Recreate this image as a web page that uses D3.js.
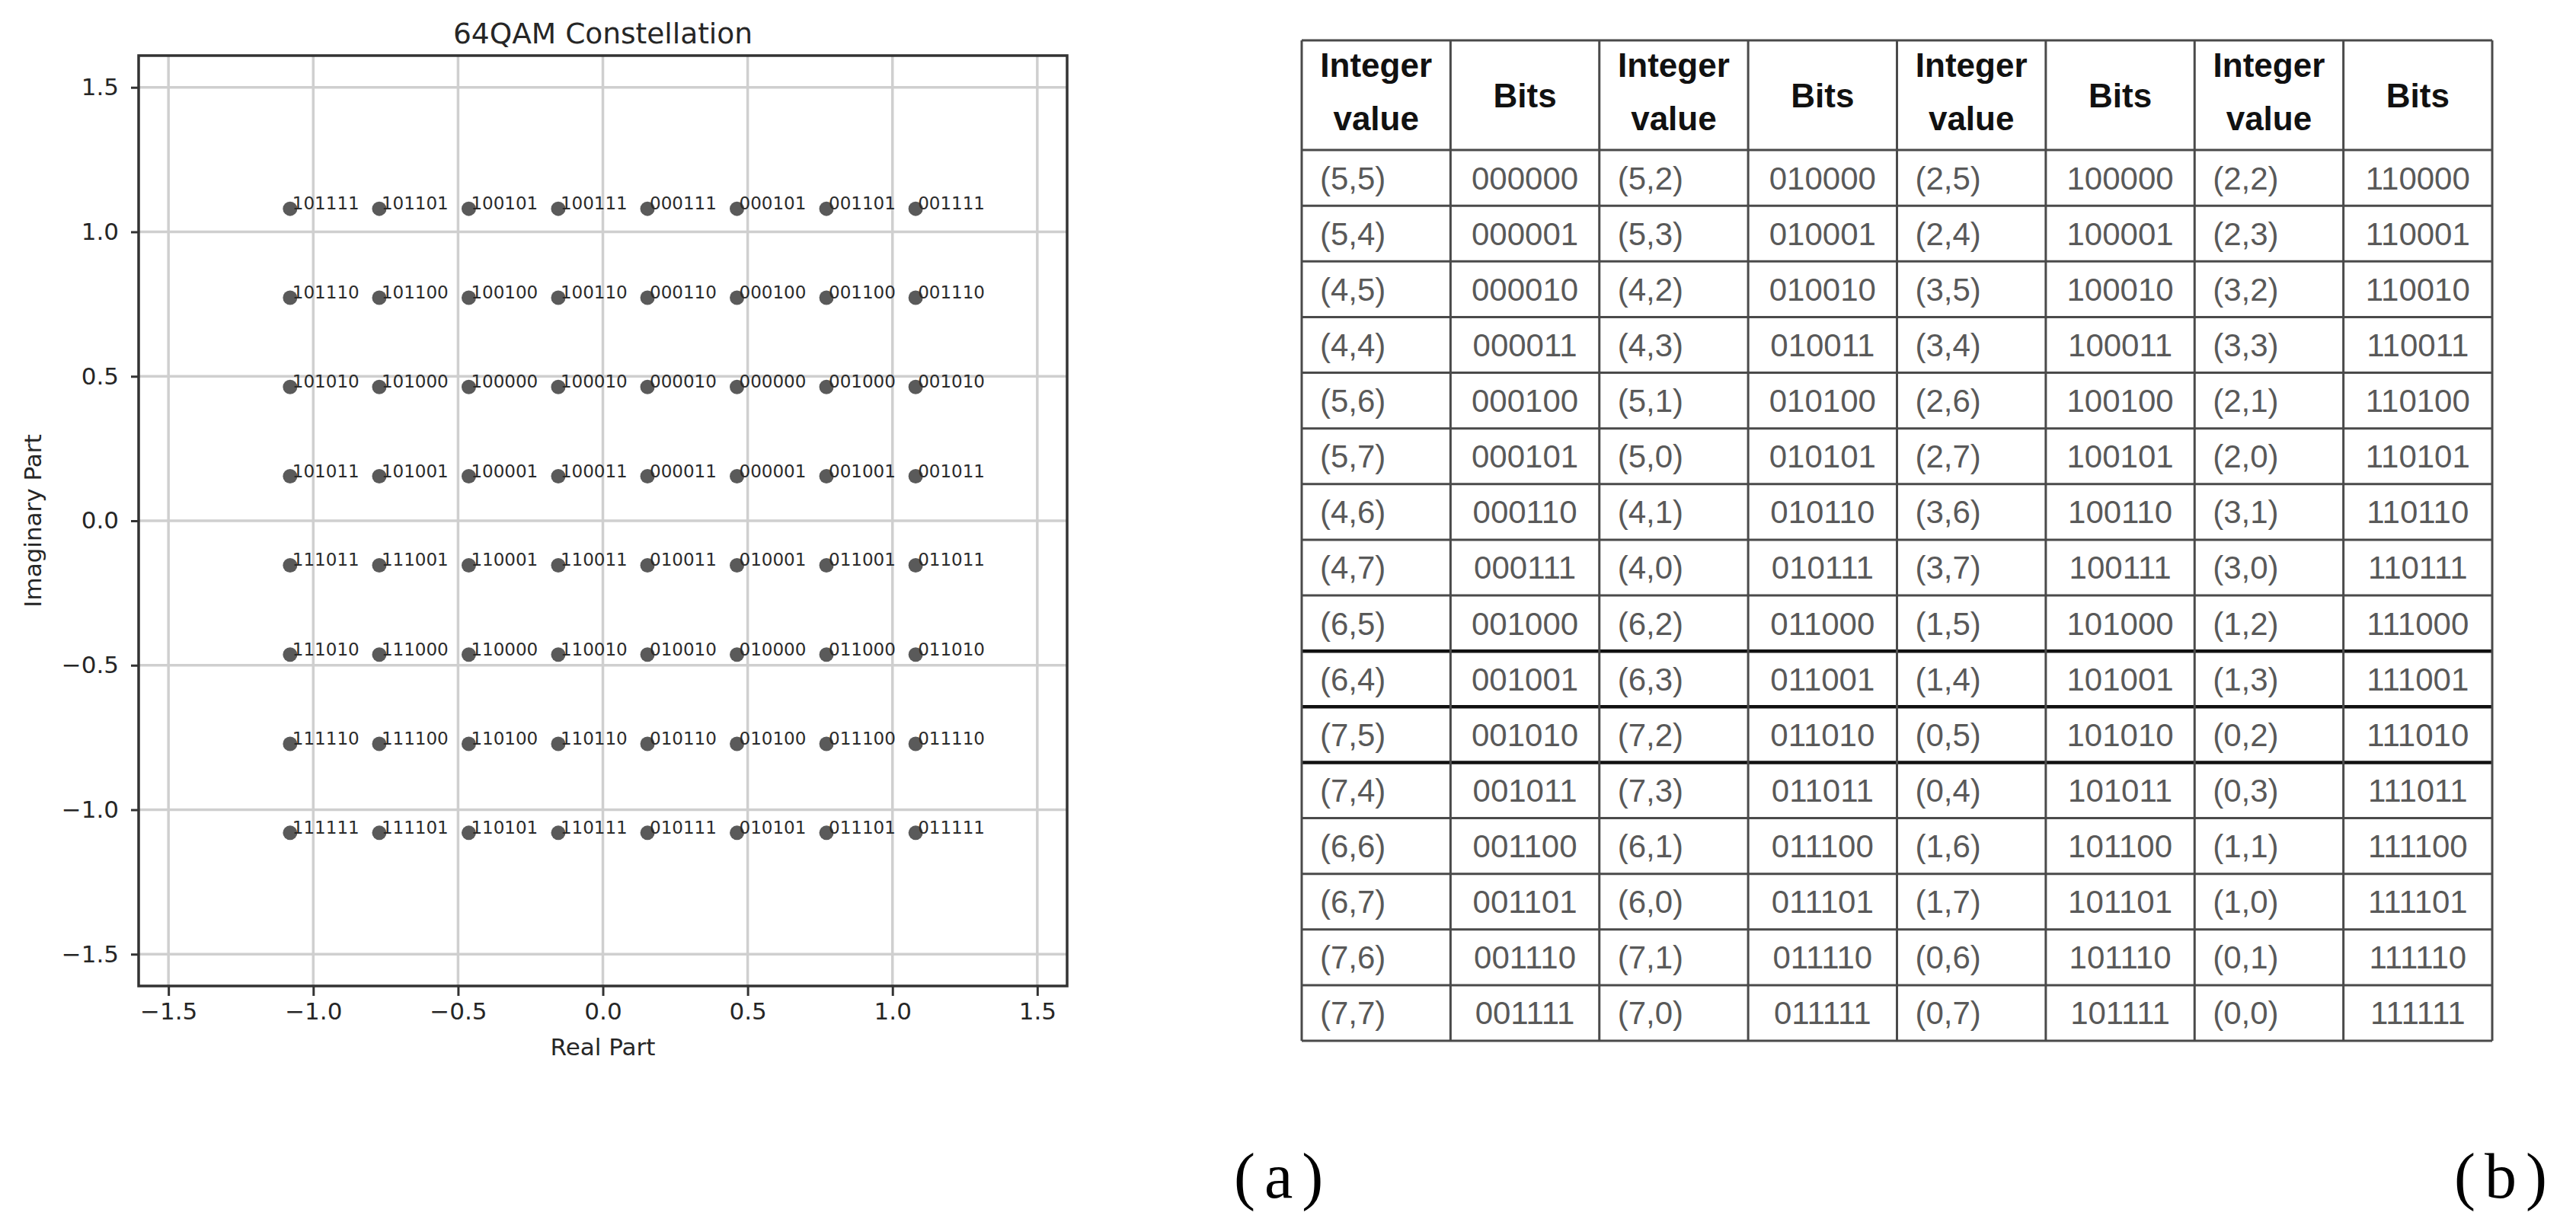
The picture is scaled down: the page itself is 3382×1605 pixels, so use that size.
<!DOCTYPE html>
<html lang="en">
<head>
<meta charset="UTF-8">
<title>64QAM Constellation</title>
<script src="https://d3js.org/d3.v7.min.js"></script>
<style>
body{margin:0;background:#fff;}
svg{display:block;background:#fff;}
.axis text{font-family:"DejaVu Sans",sans-serif;font-size:31px;fill:#262626;}
.axis line{stroke:#333;stroke-width:3;}
.grid line{stroke:#cfcfcf;stroke-width:3.5;}
.ptlabel{font-family:"DejaVu Sans",sans-serif;font-size:23px;fill:#2a2a2a;}
.cell{font-family:"Liberation Sans",Arial,sans-serif;font-size:42px;fill:#595959;}
.head{font-family:"Liberation Sans",Arial,sans-serif;font-size:44px;font-weight:bold;fill:#111;}
.sub{font-family:"Liberation Serif","Times New Roman",serif;font-size:84px;fill:#000;letter-spacing:12px;}
</style>
</head>
<body>
<svg id="fig" width="3382" height="1605"></svg>
<script>
// constellation levels on both axes
var levels=[-1.08,-0.772,-0.463,-0.154,0.154,0.463,0.772,1.08];
// bit labels, one row per imag level, top (+1.08) to bottom (-1.08)
var pointBits=[
 ["101111","101101","100101","100111","000111","000101","001101","001111"],
 ["101110","101100","100100","100110","000110","000100","001100","001110"],
 ["101010","101000","100000","100010","000010","000000","001000","001010"],
 ["101011","101001","100001","100011","000011","000001","001001","001011"],
 ["111011","111001","110001","110011","010011","010001","011001","011011"],
 ["111010","111000","110000","110010","010010","010000","011000","011010"],
 ["111110","111100","110100","110110","010110","010100","011100","011110"],
 ["111111","111101","110101","110111","010111","010101","011101","011111"]
];
var ticks=[-1.5,-1.0,-0.5,0.0,0.5,1.0,1.5];

// table (b)
var headers=["Integer value","Bits","Integer value","Bits","Integer value","Bits","Integer value","Bits"];
var ints0=["(5,5)","(5,4)","(4,5)","(4,4)","(5,6)","(5,7)","(4,6)","(4,7)","(6,5)","(6,4)","(7,5)","(7,4)","(6,6)","(6,7)","(7,6)","(7,7)"];
var bits0=["000000","000001","000010","000011","000100","000101","000110","000111","001000","001001","001010","001011","001100","001101","001110","001111"];
var ints1=["(5,2)","(5,3)","(4,2)","(4,3)","(5,1)","(5,0)","(4,1)","(4,0)","(6,2)","(6,3)","(7,2)","(7,3)","(6,1)","(6,0)","(7,1)","(7,0)"];
var bits1=["010000","010001","010010","010011","010100","010101","010110","010111","011000","011001","011010","011011","011100","011101","011110","011111"];
var ints2=["(2,5)","(2,4)","(3,5)","(3,4)","(2,6)","(2,7)","(3,6)","(3,7)","(1,5)","(1,4)","(0,5)","(0,4)","(1,6)","(1,7)","(0,6)","(0,7)"];
var bits2=["100000","100001","100010","100011","100100","100101","100110","100111","101000","101001","101010","101011","101100","101101","101110","101111"];
var ints3=["(2,2)","(2,3)","(3,2)","(3,3)","(2,1)","(2,0)","(3,1)","(3,0)","(1,2)","(1,3)","(0,2)","(0,3)","(1,1)","(1,0)","(0,1)","(0,0)"];
var bits3=["110000","110001","110010","110011","110100","110101","110110","110111","111000","111001","111010","111011","111100","111101","111110","111111"];
var thickRows=[8,9,10];

var svg=d3.select("#fig");

// ---------- (a) constellation ----------
var L=182,R=1401,T=73,B=1295;
var x=d3.scaleLinear().domain([-1.603,1.603]).range([L,R]);
var y=d3.scaleLinear().domain([-1.61,1.61]).range([B,T]);

var g=svg.append("g");
g.append("g").attr("class","grid").selectAll("line").data(ticks).enter().append("line")
  .attr("x1",function(d){return x(d);}).attr("x2",function(d){return x(d);})
  .attr("y1",T).attr("y2",B);
g.append("g").attr("class","grid").selectAll("line").data(ticks).enter().append("line")
  .attr("y1",function(d){return y(d);}).attr("y2",function(d){return y(d);})
  .attr("x1",L).attr("x2",R);

var fmt=d3.format(".1f");
var xa=g.append("g").attr("class","axis").attr("transform","translate(0,"+B+")")
  .call(d3.axisBottom(x).tickValues(ticks).tickFormat(fmt).tickSize(13).tickPadding(9));
var ya=g.append("g").attr("class","axis").attr("transform","translate("+L+",0)")
  .call(d3.axisLeft(y).tickValues(ticks).tickFormat(fmt).tickSize(10).tickPadding(16));
xa.select(".domain").remove();
ya.select(".domain").remove();

g.append("rect").attr("x",L).attr("y",T).attr("width",R-L).attr("height",B-T)
  .attr("fill","none").attr("stroke","#333").attr("stroke-width",3.5);

var pts=[];
pointBits.forEach(function(row,r){
  row.forEach(function(b,c){ pts.push({re:levels[c],im:levels[7-r],bits:b}); });
});
g.selectAll("circle.pt").data(pts).enter().append("circle").attr("class","pt")
  .attr("cx",function(d){return x(d.re);}).attr("cy",function(d){return y(d.im);})
  .attr("r",9.5).attr("fill","#5a5a5a");
g.selectAll("text.ptlabel").data(pts).enter().append("text").attr("class","ptlabel")
  .attr("x",function(d){return x(d.re)+3;}).attr("y",function(d){return y(d.im)+1;})
  .text(function(d){return d.bits;});

g.append("text").attr("x",(L+R)/2).attr("y",57).attr("text-anchor","middle")
  .style("font-family","DejaVu Sans").style("font-size","37.5px").style("fill","#262626")
  .text("64QAM Constellation");
g.append("text").attr("x",(L+R)/2).attr("y",1386).attr("text-anchor","middle")
  .style("font-family","DejaVu Sans").style("font-size","31px").style("fill","#262626")
  .text("Real Part");
g.append("text").attr("transform","translate(54,"+((T+B)/2)+") rotate(-90)").attr("text-anchor","middle")
  .style("font-family","DejaVu Sans").style("font-size","31px").style("fill","#262626")
  .text("Imaginary Part");

svg.append("text").attr("class","sub").attr("x",1620).attr("y",1573).text("(a)");
svg.append("text").attr("class","sub").attr("x",3222).attr("y",1573).text("(b)");

// ---------- (b) mapping table ----------
var TL=1709,TR=3272,TT=53,TH=197,TB=1367;
var col=d3.scaleBand().domain(d3.range(8)).range([TL,TR]);
var row=d3.scaleBand().domain(d3.range(16)).range([TH,TB]);
var groups=[[ints0,bits0],[ints1,bits1],[ints2,bits2],[ints3,bits3]];
var t=svg.append("g");

// header
headers.forEach(function(h,i){
  var cx=col(i)+col.bandwidth()/2, mid=(TT+TH)/2;
  if(h==="Bits"){
    t.append("text").attr("class","head").attr("x",cx).attr("y",mid+16).attr("text-anchor","middle").text(h);
  }else{
    var w=h.split(" ");
    t.append("text").attr("class","head").attr("x",cx).attr("y",mid-24).attr("text-anchor","middle").text(w[0]);
    t.append("text").attr("class","head").attr("x",cx).attr("y",mid+46).attr("text-anchor","middle").text(w[1]);
  }
});

// body cells
groups.forEach(function(gr,k){
  var ci=k*2, cb=k*2+1;
  t.selectAll("text.int"+k).data(gr[0]).enter().append("text").attr("class","cell int"+k)
    .attr("x",col(ci)+24).attr("y",function(d,i){return row(i)+row.bandwidth()/2+15;})
    .text(function(d){return d;});
  t.selectAll("text.bit"+k).data(gr[1]).enter().append("text").attr("class","cell bit"+k)
    .attr("x",col(cb)+col.bandwidth()/2).attr("y",function(d,i){return row(i)+row.bandwidth()/2+15;})
    .attr("text-anchor","middle").text(function(d){return d;});
});

// grid lines
var hl=[TT,TH].concat(d3.range(16).map(function(i){return row(i)+row.bandwidth();}));
t.selectAll("line.h").data(hl).enter().append("line").attr("class","h")
  .attr("x1",TL).attr("x2",TR).attr("y1",function(d){return d;}).attr("y2",function(d){return d;})
  .attr("stroke",function(d,i){return thickRows.indexOf(i-2)>=0?"#111":"#4a4a4a";})
  .attr("stroke-width",function(d,i){return thickRows.indexOf(i-2)>=0?4.5:3;});
var vl=d3.range(8).map(function(i){return col(i);}).concat([TR]);
t.selectAll("line.v").data(vl).enter().append("line").attr("class","v")
  .attr("y1",TT).attr("y2",TB).attr("x1",function(d){return d;}).attr("x2",function(d){return d;})
  .attr("stroke","#4a4a4a").attr("stroke-width",3);
</script>
</body>
</html>
